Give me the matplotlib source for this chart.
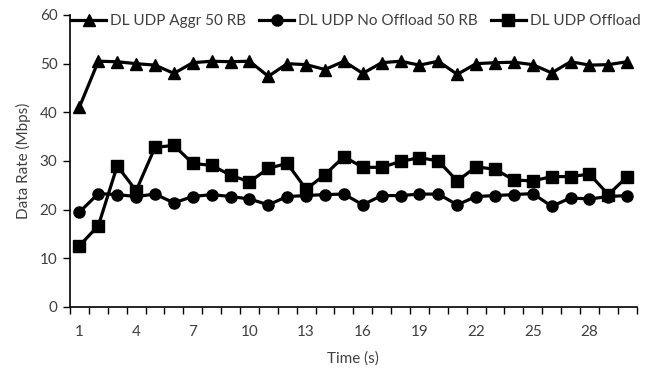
import numpy as np
import matplotlib.pyplot as plt
from matplotlib.ticker import FixedLocator

plt.rcParams['font.family'] = ['Lato', 'DejaVu Sans']

time_s = list(range(1, 31))
aggr = [41.1, 50.5, 50.4, 50.0, 49.7, 48.0, 50.2, 50.5, 50.4, 50.5,
        47.4, 50.0, 49.8, 48.8, 50.5, 48.0, 50.2, 50.5, 49.7, 50.5,
        47.8, 50.0, 50.2, 50.3, 49.8, 48.1, 50.4, 49.7, 49.8, 50.4]
no_offload = [19.5, 23.3, 23.1, 22.7, 23.2, 21.4, 22.7, 23.1, 22.7, 22.2,
              21.0, 22.7, 22.9, 23.1, 23.2, 21.0, 22.9, 22.9, 23.2, 23.2,
              21.0, 22.7, 22.9, 23.1, 23.3, 20.7, 22.4, 22.2, 22.7, 22.9]
offload = [12.6, 16.7, 29.0, 23.9, 32.8, 33.2, 29.5, 29.1, 27.1, 25.7,
           28.5, 29.5, 24.2, 27.2, 30.9, 28.7, 28.7, 29.9, 30.7, 30.0,
           25.9, 28.8, 28.3, 26.1, 25.9, 26.8, 26.8, 27.3, 23.1, 26.8]

txt = '#404040'
fs = 11

fig = plt.figure(figsize=(6.57, 3.71), dpi=100)
ax = fig.add_axes([70/657, 1-307/371, (636.7-70)/657, (307-15)/371])

kw = dict(color='black', lw=2.3, markersize=8)
ax.plot(time_s, aggr, marker='^', label='DL UDP Aggr 50 RB', **kw)
ax.plot(time_s, no_offload, marker='o', label='DL UDP No Offload 50 RB', **kw)
ax.plot(time_s, offload, marker='s', label='DL UDP Offload', **kw)

ax.set_xlim(0.5, 30.5)
ax.set_ylim(0, 60)
ax.set_yticks(range(0, 61, 10))
ax.set_xticks(time_s[::3])
ax.xaxis.set_minor_locator(FixedLocator(np.arange(0.5, 31, 1)))
ax.tick_params(axis='x', which='major', length=0, pad=13, labelsize=fs, labelcolor=txt)
ax.tick_params(axis='x', which='minor', length=5, width=1, direction='out')
ax.tick_params(axis='y', length=5, width=1, direction='out', pad=4,
               labelsize=fs, labelcolor=txt)

for s in ['top', 'right']:
    ax.spines[s].set_visible(False)
for s in ['left', 'bottom']:
    ax.spines[s].set_linewidth(1.2)

ax.set_xlabel('Time (s)', fontsize=fs, color=txt, labelpad=9)
ax.set_ylabel('Data Rate (Mbps)', fontsize=fs, color=txt, labelpad=6)

ax.legend(ncol=3, loc='center left', bbox_to_anchor=(71/657, 1-21/371),
          bbox_transform=fig.transFigure, frameon=False, fontsize=fs,
          handlelength=2.3, handletextpad=0.26, columnspacing=0.85,
          borderpad=0, borderaxespad=0, labelcolor=txt)

fig.savefig('out.png', dpi=100)
